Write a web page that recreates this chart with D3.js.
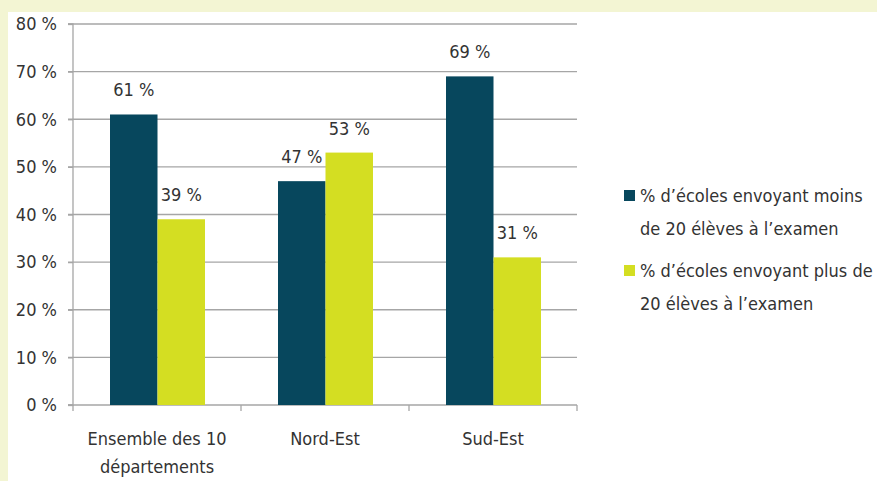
<!DOCTYPE html>
<html><head><meta charset="utf-8">
<script src="https://cdn.jsdelivr.net/npm/d3@7"></script>
<style>
html,body{margin:0;padding:0;background:#f3f5d3;}
svg{display:block;}
text{font-family:"Liberation Sans Narrow","DejaVu Sans Condensed","Roboto Condensed",sans-serif;fill:#333;}
</style></head><body>
<svg id="c" width="877" height="481"></svg>
<script>
const categories = [["Ensemble des 10","départements"],["Nord-Est"],["Sud-Est"]];
const seriesNames = [
  ["% d’écoles envoyant moins","de 20 élèves à l’examen"],
  ["% d’écoles envoyant plus de","20 élèves à l’examen"]
];
const lessThan20 = [61, 47, 69];
const moreThan20 = [39, 53, 31];
const yTicks = [0,10,20,30,40,50,60,70,80];
const colors = ["#07475d","#d4de22"];

const svg = d3.select("#c");
svg.append("rect").attr("x",8).attr("y",12).attr("width",869).attr("height",469).attr("fill","#fff");

const pL=73, pR=577, pT=24, pB=405;
const FS=18;
const catKeys = categories.map(c=>c.join(" "));
const x0 = d3.scaleBand().domain(catKeys).range([pL,pR]);
const x1 = d3.scaleBand().domain([0,1]).range([37, x0.bandwidth()-36]);
const y = d3.scaleLinear().domain([0,80]).range([pB,pT]);

// gridlines
svg.append("g").selectAll("line").data(yTicks.filter(d=>d>0)).join("line")
  .attr("x1",pL-5).attr("x2",pR).attr("y1",d=>y(d)).attr("y2",d=>y(d))
  .attr("stroke","#a6a6a6").attr("stroke-width",1.3);

// y axis
const ya = svg.append("g").attr("transform",`translate(${pL},0)`)
  .call(d3.axisLeft(y).tickValues(yTicks).tickFormat(d=>d+" %").tickSize(5).tickPadding(11));
ya.select(".domain").attr("stroke","#a6a6a6").attr("stroke-width",1.3).attr("d",`M-5,${pT}H0V${pB}H-5`);
ya.selectAll(".tick line").attr("stroke","#a6a6a6").attr("stroke-width",1.3);
ya.selectAll(".tick text").attr("font-size",FS).attr("fill","#333").attr("font-family",null);

// x axis
const xa = svg.append("g").attr("transform",`translate(0,${pB})`);
xa.append("line").attr("x1",pL-5).attr("x2",pR).attr("stroke","#a6a6a6").attr("stroke-width",1.3);
const bounds = catKeys.map(k=>x0(k)).concat([pR]);
xa.selectAll("line.t").data(bounds).join("line").attr("class","t")
  .attr("x1",d=>d).attr("x2",d=>d).attr("y1",0).attr("y2",6).attr("stroke","#a6a6a6").attr("stroke-width",1.3);
xa.selectAll("text.cat").data(categories).join("text").attr("class","cat")
  .attr("text-anchor","middle").attr("font-size",FS)
  .attr("x",(d,i)=>x0(catKeys[i])+x0.bandwidth()/2)
  .each(function(d){
    const el=d3.select(this);
    el.selectAll("tspan").data(d).join("tspan")
      .attr("x",el.attr("x")).attr("y",(t,j)=>40+j*28).text(t=>t);
  });

// bars
const series=[lessThan20, moreThan20];
series.forEach((vals,s)=>{
  const g = svg.append("g");
  g.selectAll("rect").data(vals).join("rect")
    .attr("x",(d,i)=>x0(catKeys[i])+x1(s)).attr("width",x1.bandwidth())
    .attr("y",d=>y(d)).attr("height",d=>pB-y(d)).attr("fill",colors[s]);
  g.selectAll("text").data(vals).join("text")
    .attr("text-anchor","middle").attr("font-size",FS)
    .attr("x",(d,i)=>x0(catKeys[i])+x1(s)+x1.bandwidth()/2)
    .attr("y",d=>y(d)-18).text(d=>d+" %");
});

// legend
const lg = svg.append("g");
seriesNames.forEach((lines,s)=>{
  const yy = 190 + s*75;
  lg.append("rect").attr("x",624).attr("y",yy).attr("width",11).attr("height",11).attr("fill",colors[s]);
  const t = lg.append("text").attr("font-size",FS);
  lines.forEach((ln,j)=>t.append("tspan").attr("x",640).attr("y",yy+12+j*33).text(ln));
});
</script>
</body></html>
